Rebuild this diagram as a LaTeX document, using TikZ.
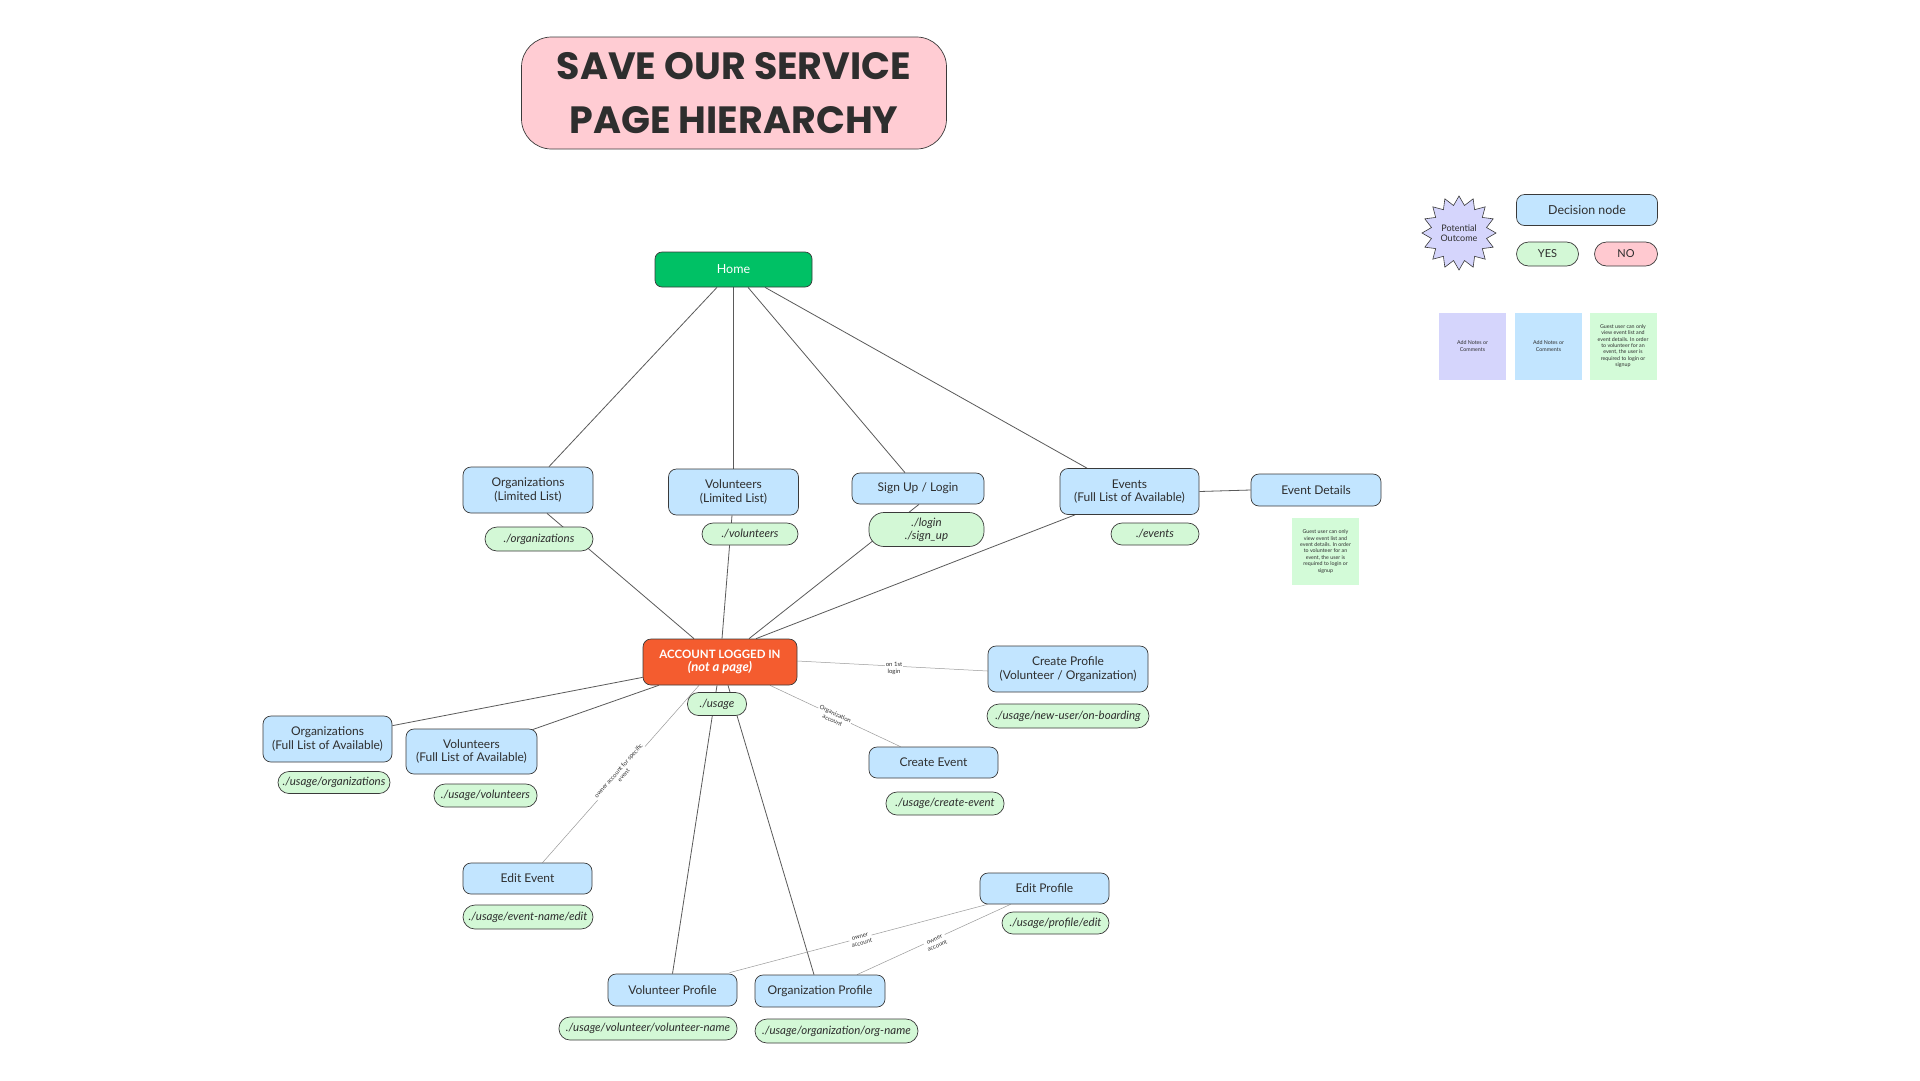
\documentclass[tikz,border=0pt]{standalone}
\usepackage{fontspec}
\setmainfont{Lato}
\newfontfamily\titlefont{Poppins}
\usetikzlibrary{shapes.geometric,backgrounds,calc}
\definecolor{boxblue}{HTML}{C2E5FF}
\definecolor{pillgreen}{HTML}{D3F8D6}
\definecolor{homegreen}{HTML}{00C165}
\definecolor{acctred}{HTML}{F45C2F}
\definecolor{titlepink}{HTML}{FFCCD3}
\definecolor{lav}{HTML}{D5D5FC}
\definecolor{nopink}{HTML}{FFC9D0}
\definecolor{edgec}{HTML}{3A3A3A}
\definecolor{connc}{HTML}{5A5A5A}
\definecolor{thinc}{HTML}{9A9A9A}
\definecolor{txt}{HTML}{2E2E2E}
\definecolor{notegreen}{HTML}{D3FBD8}
\tikzset{
  pagebox/.style={draw=edgec, line width=0.7pt, fill=boxblue, rounded corners=8pt, align=center, inner sep=0pt, text=txt, font=\fontsize{12}{13.5}\selectfont},
  pathpill/.style={draw=edgec, line width=0.7pt, fill=pillgreen, rounded corners=11pt, align=center, inner sep=0pt, text=txt, font=\fontsize{11.5}{13}\selectfont\itshape},
  notebox/.style={inner sep=0pt, align=center, text=txt, font=\fontsize{5.3}{6.4}\selectfont, minimum width=67pt, minimum height=67pt},
  conn/.style={draw=connc, line width=0.8pt},
  thinconn/.style={draw=thinc, line width=0.5pt},
  lbl/.style={font=\fontsize{6}{7}\selectfont, text=txt, align=center, fill=white, inner sep=1pt},
}
\begin{document}
\begin{tikzpicture}[x=1pt,y=-1pt]
\useasboundingbox (0,0) rectangle (1920,1080);

% title
\node[draw=edgec, line width=0.7pt, fill=titlepink, rounded corners=30pt, minimum width=425pt, minimum height=112pt, align=center, text=txt, font=\titlefont\bfseries\fontsize{38}{54}\selectfont] (title) at (734,93) {SAVE OUR SERVICE\\PAGE HIERARCHY};

% legend
\node[star, star points=16, star point ratio=1.32, draw=edgec, line width=0.6pt, fill=lav, minimum size=74pt, inner sep=0pt, align=center, text=txt, font=\fontsize{9}{10.5}\selectfont] (burst) at (1459,233) {Potential\\Outcome};
\node[pagebox, font=\fontsize{12.4}{14}\selectfont, minimum width=141pt, minimum height=31pt] (decision) at (1587,210) {Decision node};
\node[pathpill, font=\fontsize{11}{12}\selectfont, rounded corners=12pt, minimum width=62pt, minimum height=24pt] (yes) at (1547.5,254) {YES};
\node[pathpill, fill=nopink, font=\fontsize{11}{12}\selectfont, rounded corners=12pt, minimum width=63pt, minimum height=24pt] (no) at (1626,254) {NO};
\node[notebox, fill=lav] (note1) at (1472.5,346) {Add Notes or\\Comments};
\node[notebox, fill=boxblue] (note2) at (1548.5,346) {Add Notes or\\Comments};
\node[notebox, fill=notegreen] (note3) at (1623,346) {Guest user can only\\view event list and\\event details. In order\\to volunteer for an\\event, the user is\\required to login or\\signup};

% top
\node[draw=edgec, line width=0.7pt, fill=homegreen, rounded corners=7pt, minimum width=157pt, minimum height=35pt, text=white, font=\fontsize{12.5}{14}\selectfont] (home) at (733.5,269.5) {Home};

\node[pagebox, minimum width=130pt, minimum height=46pt] (orgL) at (528,490) {Organizations\\(Limited List)};
\node[pathpill, minimum width=108pt, minimum height=24pt, rounded corners=12pt] (orgLp) at (539,539) {./organizations};
\node[pagebox, minimum width=130pt, minimum height=46pt] (volL) at (733.5,492) {Volunteers\\(Limited List)};
\node[pathpill, minimum width=96pt, minimum height=22pt] (volLp) at (750,534) {./volunteers};
\node[pagebox, minimum width=132pt, minimum height=31pt] (sign) at (918,488.5) {Sign Up / Login};
\node[pathpill, minimum width=115pt, minimum height=34pt, rounded corners=15pt] (signp) at (926.5,529.5) {./login\\./sign\_up};
\node[pagebox, minimum width=139pt, minimum height=46pt] (events) at (1129.5,491.5) {Events\\(Full List of Available)};
\node[pathpill, minimum width=88pt, minimum height=22pt] (eventsp) at (1155,534) {./events};
\node[pagebox, minimum width=130pt, minimum height=32pt] (evd) at (1316,490) {Event Details};
\node[notebox, fill=notegreen] (guest) at (1325.5,551.5) {Guest user can only\\view event list and\\event details. In order\\to volunteer for an\\event, the user is\\required to login or\\signup};

% account
\node[draw=edgec, line width=0.7pt, fill=acctred, rounded corners=8pt, minimum width=154pt, minimum height=46pt, align=center, text=white, font=\fontsize{11.5}{13.5}\selectfont\bfseries] (acct) at (720,662) {ACCOUNT LOGGED IN\\{\fontsize{13}{13.5}\selectfont\itshape (not a page)}};
\node[pathpill, minimum width=59pt, minimum height=23pt] (usage) at (717,704) {./usage};

\node[pagebox, minimum width=160pt, minimum height=46pt] (cprof) at (1068,669) {Create Profile\\(Volunteer / Organization)};
\node[pathpill, minimum width=162pt, minimum height=24pt, rounded corners=12pt] (cprofp) at (1068,716) {./usage/new-user/on-boarding};

\node[pagebox, minimum width=129pt, minimum height=46pt] (orgF) at (327.5,739) {Organizations\\(Full List of Available)};
\node[pathpill, minimum width=112pt, minimum height=22pt] (orgFp) at (334,782.5) {./usage/organizations};
\node[pagebox, minimum width=131pt, minimum height=45pt] (volF) at (471.5,751.5) {Volunteers\\(Full List of Available)};
\node[pathpill, minimum width=103pt, minimum height=23pt] (volFp) at (485.5,795.5) {./usage/volunteers};

\node[pagebox, minimum width=129pt, minimum height=31pt] (cevent) at (933.5,762.5) {Create Event};
\node[pathpill, minimum width=118pt, minimum height=23pt] (ceventp) at (945,803.5) {./usage/create-event};

\node[pagebox, minimum width=129pt, minimum height=31pt] (eevent) at (527.5,878.5) {Edit Event};
\node[pathpill, minimum width=130pt, minimum height=24pt, rounded corners=12pt] (eeventp) at (528,917) {./usage/event-name/edit};

\node[pagebox, minimum width=129pt, minimum height=32pt] (volP) at (672.5,990) {Volunteer Profile};
\node[pathpill, minimum width=178pt, minimum height=23pt] (volPp) at (648,1028.5) {./usage/volunteer/volunteer-name};
\node[pagebox, minimum width=130pt, minimum height=32pt] (orgP) at (820,991) {Organization Profile};
\node[pathpill, minimum width=163pt, minimum height=24pt, rounded corners=12pt] (orgPp) at (836.5,1031) {./usage/organization/org-name};

\node[pagebox, minimum width=129pt, minimum height=31pt] (eprof) at (1044.5,888.5) {Edit Profile};
\node[pathpill, minimum width=107pt, minimum height=22pt] (eprofp) at (1055.5,923) {./usage/profile/edit};

% labels on connectors
\node[lbl] (lfirst) at (894,668) {on 1st\\login};
\node[lbl, rotate=-25] (lorgacc) at (834,717) {Organization\\account};
\node[lbl, rotate=48.6] (lowner) at (621,773) {owner account for specific\\event};
\node[lbl, rotate=15] (lown1) at (861,940) {owner\\account};
\node[lbl, rotate=25] (lown2) at (936,943) {owner\\account};

\begin{pgfonlayer}{background}
\fill[white] (0,0) rectangle (1920,1080);
\draw[conn] ([xshift=-16.5pt]home.south) -- ([xshift=21pt]orgL.north);
\draw[conn] (home.south) -- (volL.north);
\draw[conn] ([xshift=14.5pt]home.south) -- ([xshift=-13pt]sign.north);
\draw[conn] ([xshift=31.5pt]home.south) -- ([xshift=-42.5pt]events.north);
\draw[conn] (events.east) -- (evd.west);
\draw[conn] ([xshift=19pt]orgL.south) -- ([xshift=-26pt]acct.north);
\draw[conn] ([xshift=-1.5pt]volL.south) -- ([xshift=2pt]acct.north);
\draw[conn] ([xshift=1pt]sign.south) -- ([xshift=29pt]acct.north);
\draw[conn] ([xshift=-54.5pt]events.south) -- ([xshift=36pt]acct.north);
\draw[conn] ([yshift=8pt]acct.south west) -- ([yshift=-10pt]orgF.north east);
\draw[conn] ([xshift=16pt]acct.south west) -- ([xshift=-5pt,yshift=-1pt]volF.north east);
\draw[conn] ([xshift=-3pt]acct.south) -- (volP.north);
\draw[conn] ([xshift=8pt]acct.south) -- ([xshift=-6pt]orgP.north);
\draw[thinconn] ([xshift=-21pt]acct.south) -- ([xshift=15pt]eevent.north);
\draw[thinconn] ([yshift=1pt]acct.east) -- ([yshift=-2pt]cprof.west);
\draw[thinconn] ([xshift=50pt]acct.south) -- ([xshift=-33pt]cevent.north);
\draw[thinconn] ([xshift=-57pt]eprof.south) -- ([xshift=57pt,yshift=1pt]volP.north);
\draw[thinconn] ([xshift=-34pt]eprof.south) -- ([xshift=37pt]orgP.north);
\end{pgfonlayer}
\end{tikzpicture}
\end{document}
